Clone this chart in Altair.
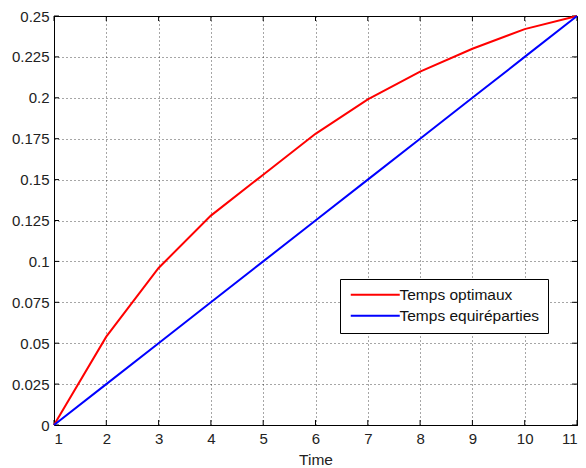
import altair as alt
import pandas as pd

# Time steps and the two partitions being compared
time = [1, 2, 3, 4, 5, 6, 7, 8, 9, 10, 11]
optimal = [0.0, 0.054, 0.096, 0.128, 0.153, 0.178, 0.199, 0.216, 0.230, 0.242, 0.25]
uniform = [0.0, 0.025, 0.05, 0.075, 0.1, 0.125, 0.15, 0.175, 0.2, 0.225, 0.25]
series_names = ["Temps optimaux", "Temps equiréparties"]
series_colors = ["#ff0000", "#0000ff"]

x_ticks = [1, 2, 3, 4, 5, 6, 7, 8, 9, 10, 11]
y_ticks = [0, 0.025, 0.05, 0.075, 0.1, 0.125, 0.15, 0.175, 0.2, 0.225, 0.25]

W, H = 523, 409
FONT = "Liberation Sans"

rows = []
for t, a, b in zip(time, optimal, uniform):
    rows.append({"time": t, "value": a, "series": series_names[0]})
    rows.append({"time": t, "value": b, "series": series_names[1]})
df = pd.DataFrame(rows)

x_scale = alt.Scale(domain=[1, 11], nice=False, zero=False)
y_scale = alt.Scale(domain=[0, 0.25], nice=False)

lines = alt.Chart(df).mark_line(strokeWidth=2).encode(
    x=alt.X(
        "time:Q",
        scale=x_scale,
        axis=alt.Axis(
            values=x_ticks, title="Time", grid=True, ticks=False,
            labelPadding=6, titlePadding=6,
        ),
    ),
    y=alt.Y(
        "value:Q",
        scale=y_scale,
        axis=alt.Axis(
            values=y_ticks, title=None, grid=True, ticks=False,
            format=".3~g", labelPadding=5,
        ),
    ),
    color=alt.Color(
        "series:N",
        scale=alt.Scale(domain=series_names, range=series_colors),
        sort=series_names,
        legend=alt.Legend(
            title=None, orient="none", legendX=286, legendY=263,
            strokeColor="black", fillColor="white", padding=8,
            # long horizontal line sample (custom path scaled by sqrt(size)/2)
            symbolType="M-1,0H8.8", symbolSize=100, symbolStrokeWidth=2,
            labelFont=FONT, labelFontSize=15.5, labelColor="#111",
            rowPadding=4, labelOffset=36, cornerRadius=0,
        ),
    ),
)

# Inward-pointing tick marks on all four sides
xt = pd.DataFrame({"t": x_ticks})
yt = pd.DataFrame({"v": y_ticks})
tick_style = dict(color="black", strokeWidth=1)
bottom_ticks = alt.Chart(xt).mark_rule(**tick_style).encode(
    x=alt.X("t:Q", scale=x_scale), y=alt.value(H), y2=alt.value(H - 5)
)
top_ticks = alt.Chart(xt).mark_rule(**tick_style).encode(
    x=alt.X("t:Q", scale=x_scale), y=alt.value(0), y2=alt.value(5)
)
left_ticks = alt.Chart(yt).mark_rule(**tick_style).encode(
    y=alt.Y("v:Q", scale=y_scale), x=alt.value(0), x2=alt.value(5)
)
right_ticks = alt.Chart(yt).mark_rule(**tick_style).encode(
    y=alt.Y("v:Q", scale=y_scale), x=alt.value(W), x2=alt.value(W - 5)
)

chart = (
    alt.layer(bottom_ticks, top_ticks, left_ticks, right_ticks, lines)
    .properties(
        width=W, height=H,
        autosize=alt.AutoSizeParams(type="none"),
        padding={"left": 54, "top": 16, "right": 9, "bottom": 43},
        background="white",
    )
    .configure_view(stroke="black", strokeWidth=1)
    .configure_axis(
        domainColor="black", domainWidth=1,
        gridColor="#000", gridDash=[1, 3], gridOpacity=0.7, gridWidth=1,
        labelFont=FONT, labelFontSize=15, labelColor="#222",
        titleFont=FONT, titleFontSize=15.5, titleFontWeight="normal", titleColor="#222",
    )
)

chart.save("out.html", embed_options={"renderer": "svg", "actions": False})
